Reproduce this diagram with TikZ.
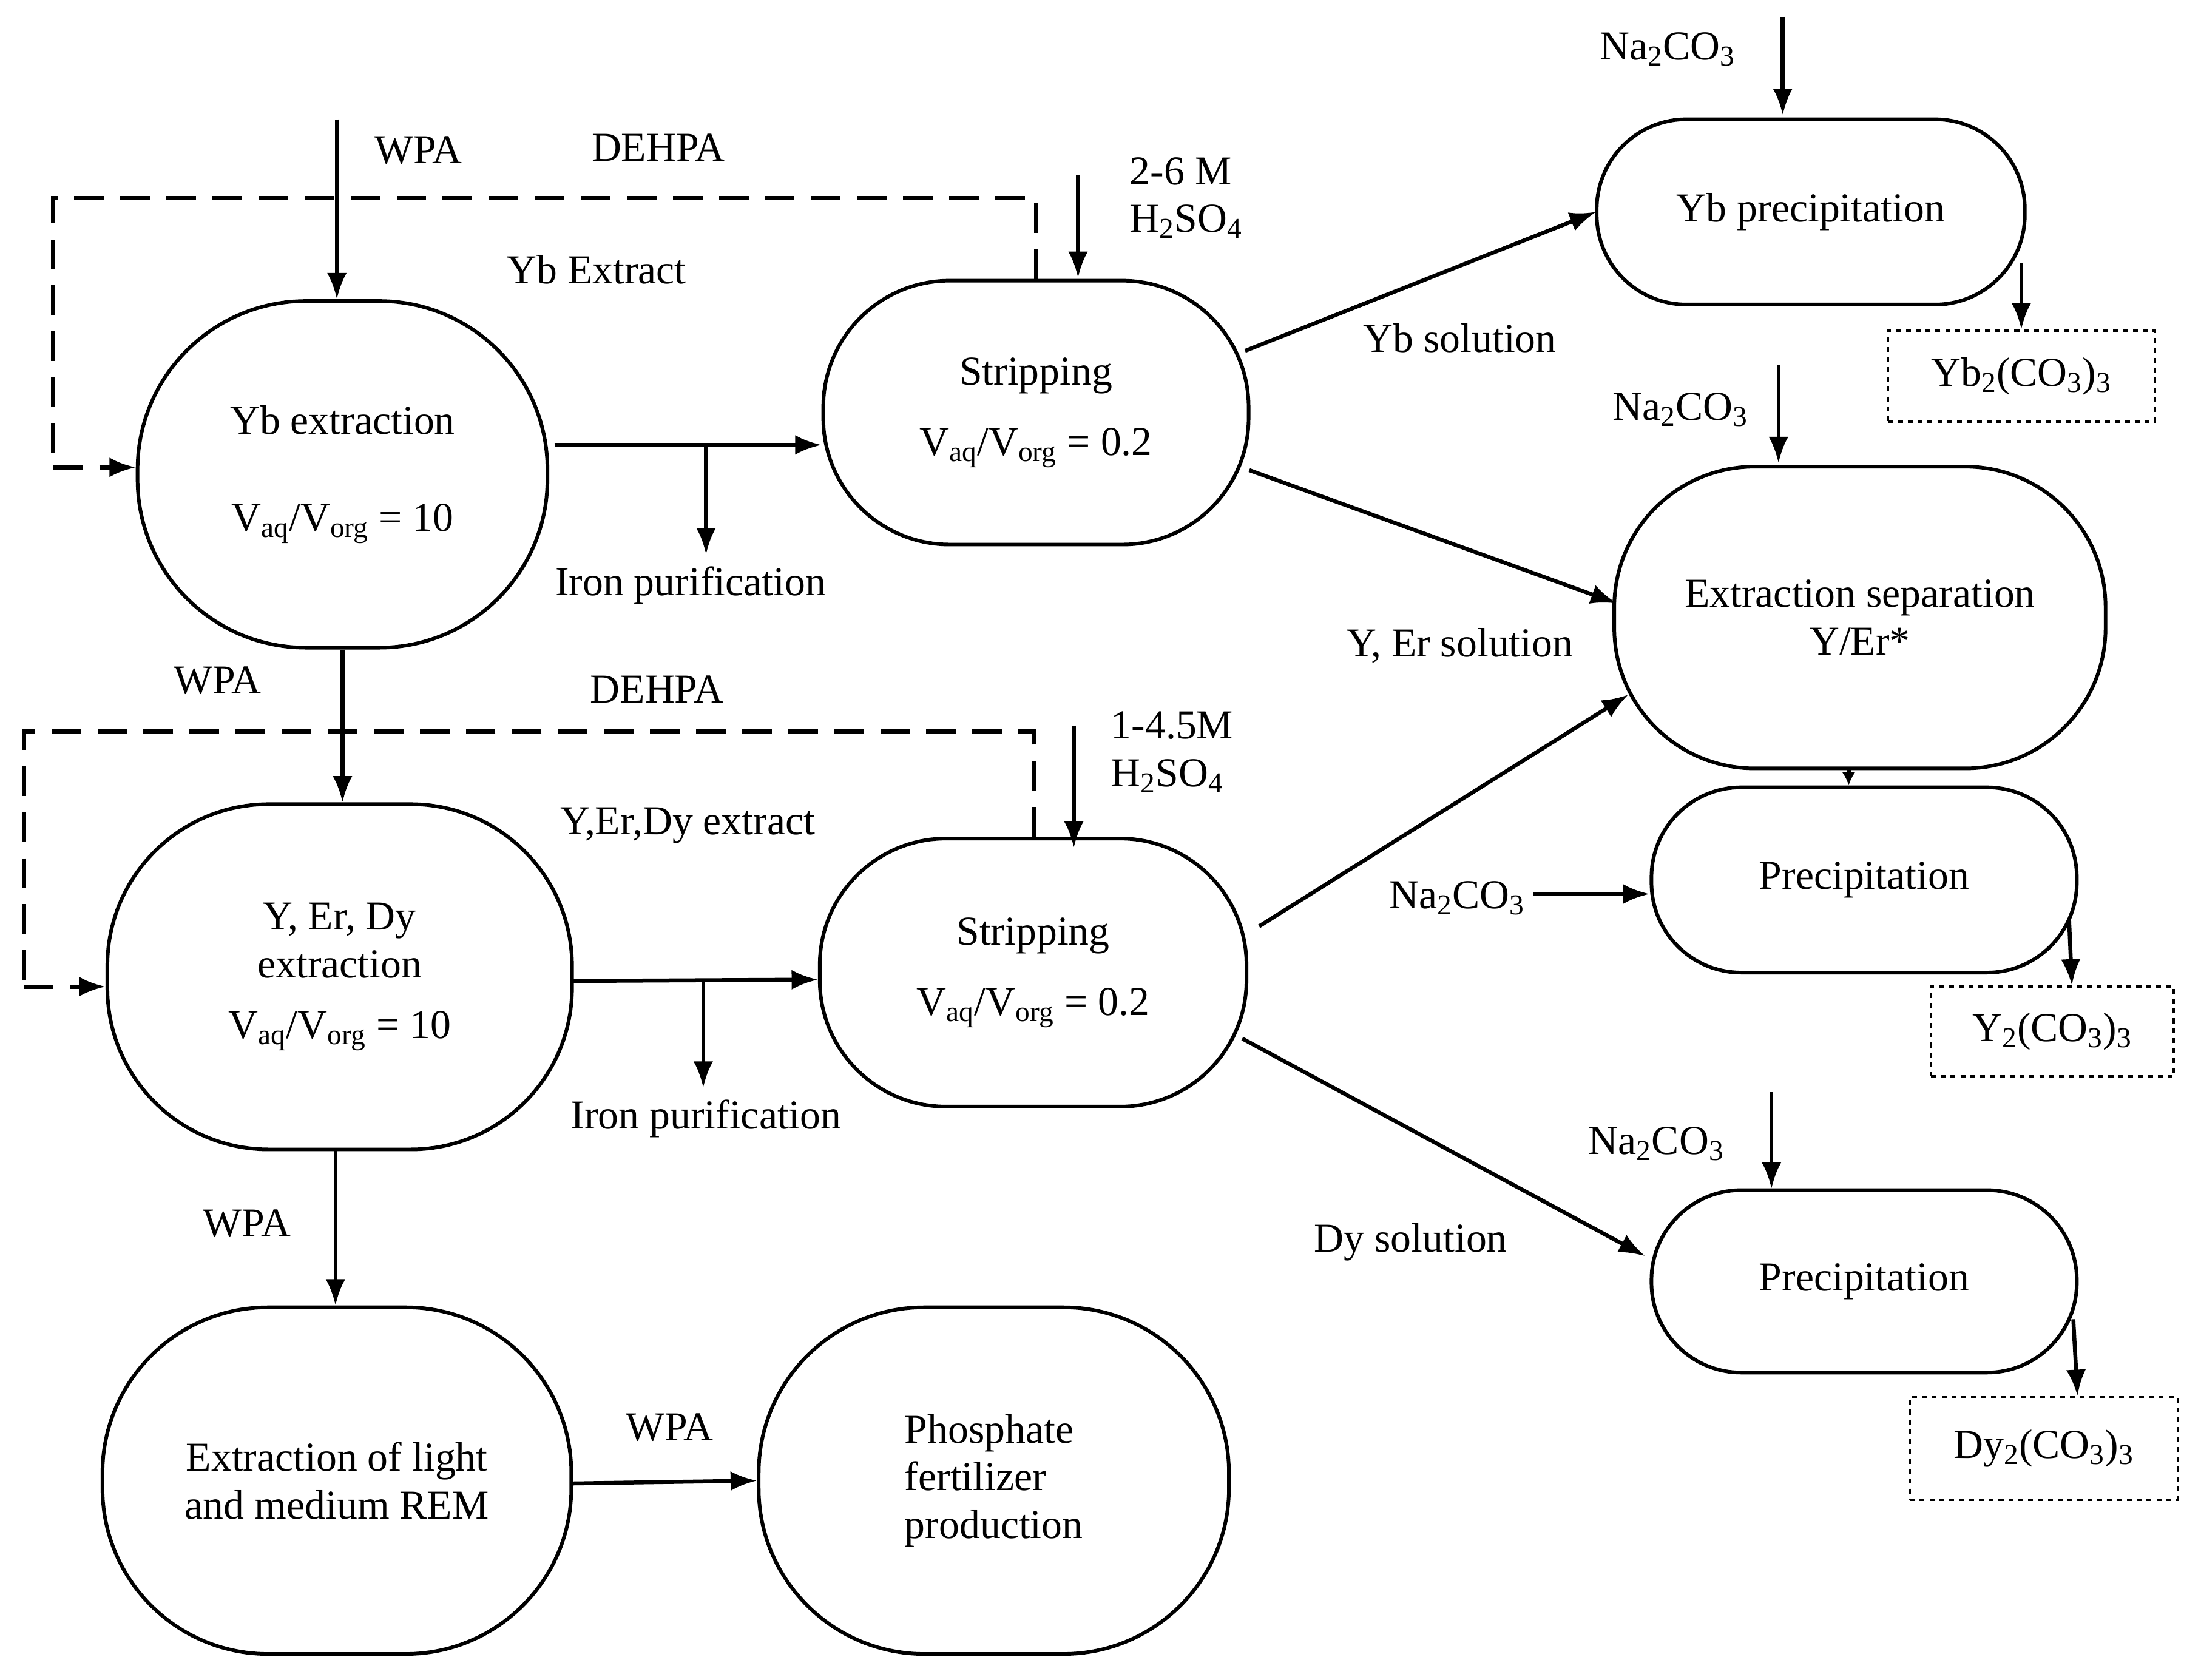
\documentclass[tikz,border=0pt]{standalone}
\usepackage{fontspec}
\setmainfont{Liberation Serif}
\usetikzlibrary{arrows.meta}
\begin{document}
\begin{tikzpicture}[x=0.03cm,y=-0.03cm,
  every node/.style={font=\fontsize{25}{29}\selectfont},
  box/.style={draw,line width=2.2pt,align=center,inner sep=0pt},
  carb/.style={draw,dashed,line width=1.4pt,inner sep=0pt},
  arr/.style={line width=2.4pt,-{Latex[length=16pt,width=12pt]}},
  dsh/.style={line width=2.6pt,dash pattern=on 18pt off 10pt}]
\useasboundingbox (0,0) rectangle (1568,1197);
% nodes
\node[box,minimum width=292*0.03cm,minimum height=247*0.03cm,rounded corners=120*0.03cm] (ybext) at (244,338) {Yb extraction\\[30pt]V\textsubscript{aq}/V\textsubscript{org} = 10};
\node[box,minimum width=303*0.03cm,minimum height=188*0.03cm,rounded corners=90*0.03cm] (s1) at (738,294) {Stripping\\[14pt]V\textsubscript{aq}/V\textsubscript{org} = 0.2};
\node[box,minimum width=305*0.03cm,minimum height=132*0.03cm,rounded corners=64*0.03cm] (ybp) at (1290,151) {Yb precipitation};
\node[carb,minimum width=190*0.03cm,minimum height=65*0.03cm] (ybc) at (1440,268) {Yb\textsubscript{2}(CO\textsubscript{3})\textsubscript{3}};
\node[box,minimum width=350*0.03cm,minimum height=215*0.03cm,rounded corners=100*0.03cm] (es) at (1325,440) {Extraction separation\\Y/Er*};
\node[box,minimum width=303*0.03cm,minimum height=132*0.03cm,rounded corners=64*0.03cm] (p1) at (1328,627) {Precipitation};
\node[carb,minimum width=173*0.03cm,minimum height=64*0.03cm] (yc) at (1462,735) {Y\textsubscript{2}(CO\textsubscript{3})\textsubscript{3}};
\node[box,minimum width=331*0.03cm,minimum height=246*0.03cm,rounded corners=115*0.03cm] (yed) at (242,696) {Y, Er, Dy\\extraction\\[8pt]V\textsubscript{aq}/V\textsubscript{org} = 10};
\node[box,minimum width=304*0.03cm,minimum height=191*0.03cm,rounded corners=90*0.03cm] (s2) at (736,693) {Stripping\\[14pt]V\textsubscript{aq}/V\textsubscript{org} = 0.2};
\node[box,minimum width=303*0.03cm,minimum height=130*0.03cm,rounded corners=64*0.03cm] (p2) at (1328,913) {Precipitation};
\node[carb,minimum width=191*0.03cm,minimum height=73*0.03cm] (dyc) at (1456,1032) {Dy\textsubscript{2}(CO\textsubscript{3})\textsubscript{3}};
\node[box,minimum width=334*0.03cm,minimum height=247*0.03cm,rounded corners=118*0.03cm] (lm) at (240,1055) {Extraction of light\\and medium REM};
\node[box,minimum width=335*0.03cm,minimum height=247*0.03cm,rounded corners=118*0.03cm,align=left] (ph) at (708,1055) {Phosphate\\fertilizer\\production};
% coordinates
\coordinate (w1) at (240,85);
\coordinate (a1) at (768,125);
\coordinate (n1) at (1270,12);
\coordinate (n2) at (1267,260);
\coordinate (n3) at (1092,637);
\coordinate (n4) at (1262,778);
\coordinate (a2) at (765,517);
\coordinate (i1s) at (503,318);
\coordinate (i1e) at (503,395);
\coordinate (i2s) at (501,700);
\coordinate (i2e) at (501,775);
% arrows
\draw[arr] (w1) -- (ybext.north -| w1);
\draw[arr] (a1) -- (768,198);
\draw[arr] (395,317) -- (s1.west |- 0,317);
\draw[arr] (i1s) -- (i1e);
\draw[arr] (887,250) -- (1137,151);
\draw[arr] (n1) -- (1270,82);
\draw[arr] (1440,187) -- (ybc.north -| 1440,0);
\draw[arr] (n2) -- (1267,330);
\draw[arr] (890,335) -- (1152,430);
\draw[arr,-{Latex[length=8pt,width=8pt]}] (es.south -| 1317,0) -- (p1.north -| 1317,0);
\draw[arr] (n3) -- (p1.west |- n3);
\draw[arr] (1474,655) -- (yc.north -| 1476,0);
\draw[arr] (897,660) -- (1160,495);
\draw[arr] (885,740) -- (1172,895);
\draw[arr] (n4) -- (1262,847);
\draw[arr] (1477,940) -- (dyc.north -| 1480,0);
\draw[arr] (ybext.south -| 244,0) -- (yed.north -| 244,0);
\draw[arr] (a2) -- (765,604);
\draw[arr] (408,699) -- (s2.west |- 0,698);
\draw[arr] (i2s) -- (i2e);
\draw[arr] (yed.south -| 239,0) -- (lm.north -| 239,0);
\draw[arr] (lm.east |- 0,1057) -- (ph.west |- 0,1055);
% dashed loops
\draw[dsh] (s1.north -| 738,0) -- (738,141) -- (38,141) -- (38,333);
\draw[dsh,-{Latex[length=16pt,width=12pt]}] (38,333) -- (ybext.west |- 0,333);
\draw[dsh] (s2.north -| 737,0) -- (737,521) -- (17,521) -- (17,703);
\draw[dsh,-{Latex[length=16pt,width=12pt]}] (17,703) -- (yed.west |- 0,703);
% labels
\node (l1) at (298,107) {WPA};
\node (l2) at (469,105) {DEHPA};
\node[align=left] (l3) at (845,141) {2-6 M\\H\textsubscript{2}SO\textsubscript{4}};
\node (l4) at (425,192) {Yb Extract};
\node (l5) at (492,417) {Iron purification};
\node (l6) at (1040,241) {Yb solution};
\node (l7) at (1188,35) {Na\textsubscript{2}CO\textsubscript{3}};
\node (l8) at (1197,292) {Na\textsubscript{2}CO\textsubscript{3}};
\node (l9) at (1040,460) {Y, Er solution};
\node (l10) at (1038,640) {Na\textsubscript{2}CO\textsubscript{3}};
\node (l11) at (1005,885) {Dy solution};
\node (l12) at (1180,815) {Na\textsubscript{2}CO\textsubscript{3}};
\node (l13) at (155,485) {WPA};
\node (l14) at (468,491) {DEHPA};
\node[align=left] (l15) at (835,536) {1-4.5M\\H\textsubscript{2}SO\textsubscript{4}};
\node (l16) at (490,588) {Y,Er,Dy extract};
\node (l17) at (503,797) {Iron purification};
\node (l18) at (176,872) {WPA};
\node (l19) at (477,1017) {WPA};
\end{tikzpicture}
\end{document}
